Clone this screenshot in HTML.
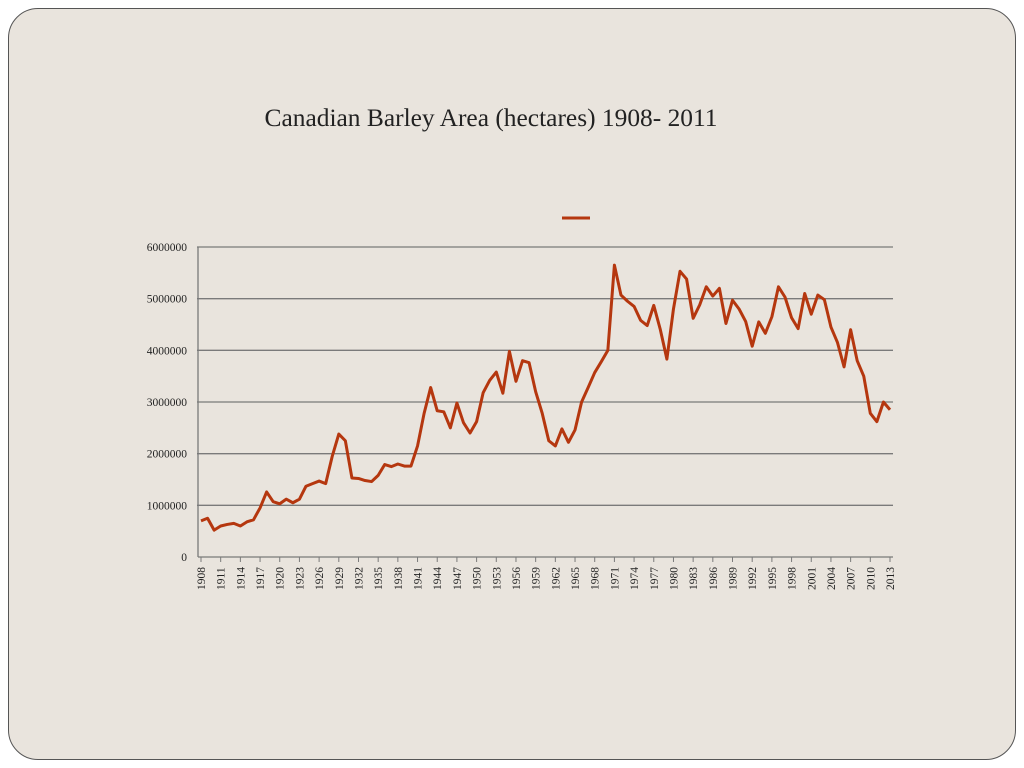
<!DOCTYPE html>
<html><head><meta charset="utf-8"><style>
html,body{margin:0;padding:0;background:#fff;}
#slide{position:absolute;left:8px;top:8px;width:1006px;height:750px;border:1.5px solid #555;border-radius:30px;background:#e9e4dd;}
svg{position:absolute;left:0;top:0;}
text{font-family:"Liberation Serif",serif;fill:#222;}
</style></head><body>
<div id="slide"></div>
<svg id="chart" width="1024" height="768">
<text x="491" y="126" text-anchor="middle" font-size="25" textLength="453" lengthAdjust="spacingAndGlyphs">Canadian Barley Area  (hectares) 1908- 2011</text>
<line x1="562" y1="218" x2="590" y2="218" stroke="#b5370f" stroke-width="3"/>
<g id="grid"></g><g id="axes"></g><g id="series"></g>
</svg>
<script>
const startYear = 1908;
const values = [0.70,0.75,0.52,0.60,0.63,0.65,0.60,0.68,0.72,0.95,1.26,1.07,1.03,1.12,1.05,1.12,1.37,1.42,1.47,1.42,1.95,2.38,2.25,1.53,1.52,1.48,1.46,1.58,1.79,1.75,1.80,1.76,1.76,2.15,2.78,3.28,2.83,2.81,2.50,2.98,2.60,2.40,2.62,3.18,3.42,3.58,3.17,3.98,3.40,3.80,3.76,3.20,2.78,2.25,2.15,2.48,2.22,2.46,3.00,3.28,3.57,3.78,4.00,5.65,5.07,4.95,4.85,4.58,4.48,4.87,4.40,3.83,4.80,5.53,5.38,4.62,4.88,5.23,5.05,5.20,4.52,4.97,4.80,4.56,4.08,4.55,4.33,4.65,5.23,5.03,4.63,4.42,5.10,4.70,5.07,4.98,4.45,4.15,3.68,4.40,3.80,3.50,2.78,2.62,3.00,2.85].map(v=>v*1e6);
const yTicks = [0,1000000,2000000,3000000,4000000,5000000,6000000];
const years = values.map((v,i)=>startYear+i);
const NS="http://www.w3.org/2000/svg";
const x0=201, x1=890, yb=557, yt=247;
const xs = i => x0 + i*(x1-x0)/(values.length-1);
const ys = v => yb - v/6000000*(yb-yt);
function mk(tag,attrs,parent){const e=document.createElementNS(NS,tag);for(const k in attrs)e.setAttribute(k,attrs[k]);parent.appendChild(e);return e;}
const grid=document.getElementById('grid'), axes=document.getElementById('axes'), ser=document.getElementById('series');
yTicks.forEach(t=>{
  if(t>0){const l=mk('line',{x1:197,x2:893,y1:ys(t),y2:ys(t),stroke:'#7a7a7a','stroke-width':1.3},grid);
  
  }
  const tx=mk('text',{x:187,y:ys(t)+4,'text-anchor':'end','font-size':11.5},axes);
  tx.textContent=String(t);
  
  
});
const ya=mk('line',{x1:198,x2:198,y1:247,y2:557,stroke:'#7a7a7a','stroke-width':1.3},axes);


const xa=mk('line',{x1:198,x2:893,y1:557,y2:557,stroke:'#7a7a7a','stroke-width':1.3},axes);


years.forEach((y,i)=>{
  if(i%3===0){
    const tk=mk('line',{x1:xs(i),x2:xs(i),y1:557,y2:562,stroke:'#7a7a7a'},axes);
    
    
    const tx=mk('text',{transform:`translate(${xs(i)+4},590) rotate(-90)`,'font-size':11.5},axes);
    tx.textContent=String(y);
    
    
  }
});
const p=mk('polyline',{points:values.map((v,i)=>xs(i)+','+ys(v)).join(' '),fill:'none',stroke:'#b5370f','stroke-width':3,'stroke-linejoin':'round'},ser);


</script>
</body></html>
